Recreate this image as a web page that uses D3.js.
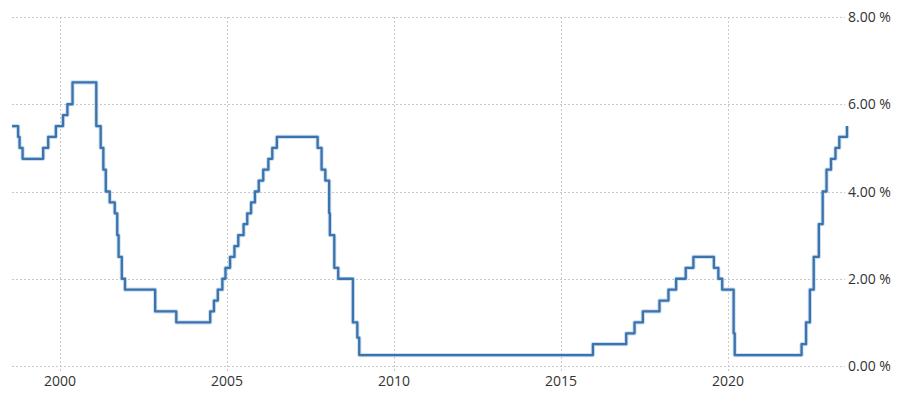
<!DOCTYPE html>
<html>
<head>
<meta charset="utf-8">
<script src="https://cdn.jsdelivr.net/npm/d3@7"></script>
<style>
  html, body { margin: 0; padding: 0; background: #fff; }
  svg { display: block; }
  text { font-family: "Open Sans", "Noto Sans", sans-serif; }
</style>
</head>
<body>
<svg id="chart" width="900" height="401"></svg>
<script>
// Dates when the plotted rate changed, and the rate in effect from that date (%)
const changeDates = [
  "1998-07-24","1998-09-29","1998-10-15","1998-11-17",
  "1999-06-30","1999-08-24","1999-11-16",
  "2000-02-02","2000-03-21","2000-05-16",
  "2001-01-31","2001-03-20","2001-04-18","2001-05-15","2001-06-27",
  "2001-08-21","2001-09-17","2001-10-02","2001-11-06","2001-12-11",
  "2002-11-06","2003-06-25",
  "2004-06-30","2004-08-10","2004-09-21","2004-11-10","2004-12-14",
  "2005-02-02","2005-03-22","2005-05-03","2005-06-30","2005-08-09","2005-09-20",
  "2005-11-01","2005-12-13","2006-01-31","2006-03-28","2006-05-10","2006-06-29",
  "2007-09-18","2007-10-31","2007-12-11","2008-01-22","2008-01-30","2008-03-18",
  "2008-04-30","2008-10-08","2008-11-25","2008-12-16",
  "2015-12-16","2016-12-14","2017-03-15","2017-06-14","2017-12-13","2018-03-21",
  "2018-06-13","2018-09-26","2018-12-19",
  "2019-07-31","2019-09-18","2019-10-30","2020-03-03","2020-03-15",
  "2022-03-16","2022-05-04","2022-06-15","2022-07-27","2022-09-21","2022-11-02",
  "2022-12-14","2023-02-01","2023-03-22","2023-05-03","2023-07-26"
];
const rates = [
  5.50,5.25,5.00,4.75,
  5.00,5.25,5.50,
  5.75,6.00,6.50,
  5.50,5.00,4.50,4.00,3.75,
  3.50,3.00,2.50,2.00,1.75,
  1.25,1.00,
  1.25,1.50,1.75,2.00,2.25,
  2.50,2.75,3.00,3.25,3.50,3.75,
  4.00,4.25,4.50,4.75,5.00,5.25,
  5.00,4.50,4.25,3.50,3.00,2.25,
  2.00,1.00,0.65,0.25,
  0.50,0.75,1.00,1.25,1.50,1.75,
  2.00,2.25,2.50,
  2.25,2.00,1.75,0.75,0.25,
  0.50,1.00,1.75,2.50,3.25,4.00,
  4.50,4.75,5.00,5.25,5.50
];
const yTickValues = [0, 2, 4, 6, 8];
const xTickYears = [2000, 2005, 2010, 2015, 2020];

const parse = d3.timeParse("%Y-%m-%d");
const data = changeDates.map((d, i) => ({ date: parse(d), value: rates[i] }));

const svg = d3.select("#chart");
const plotLeft = 12, plotRight = 847, plotTop = 17, plotBottom = 366;

const x = d3.scaleTime()
  .domain(d3.extent(data, d => d.date))
  .range([plotLeft, plotRight]);
const y = d3.scaleLinear().domain([0, 8]).range([plotBottom, plotTop]);

const gridColor = "#c9c9c9";

// horizontal grid
svg.append("g").selectAll("line").data(yTickValues).join("line")
  .attr("x1", plotLeft).attr("x2", 845)
  .attr("y1", d => Math.round(y(d)) + 0.5).attr("y2", d => Math.round(y(d)) + 0.5)
  .attr("stroke", gridColor).attr("stroke-width", 1).attr("stroke-dasharray", "2,2");

// vertical grid
const xTickDates = xTickYears.map(yr => new Date(yr, 0, 1));
svg.append("g").selectAll("line").data(xTickDates).join("line")
  .attr("x1", d => Math.round(x(d)) + 0.5).attr("x2", d => Math.round(x(d)) + 0.5)
  .attr("y1", plotTop).attr("y2", 371)
  .attr("stroke", gridColor).attr("stroke-width", 1).attr("stroke-dasharray", "2,2");

// y labels
const fmt = d3.format(".2f");
svg.append("g").selectAll("text").data(yTickValues).join("text")
  .attr("x", 848).attr("y", d => y(d)).attr("dy", "0.36em")
  .attr("font-size", 14).attr("fill", "#333")
  .text(d => fmt(d) + " %");

// x labels
svg.append("g").selectAll("text").data(xTickDates).join("text")
  .attr("x", d => x(d)).attr("y", 386)
  .attr("text-anchor", "middle")
  .attr("font-size", 14).attr("fill", "#333")
  .text(d => d3.timeFormat("%Y")(d));

// line
const line = d3.line()
  .x(d => x(d.date)).y(d => y(d.value))
  .curve(d3.curveStepAfter);

svg.append("path").datum(data)
  .attr("d", line)
  .attr("fill", "none")
  .attr("stroke", "#a9c6e3").attr("stroke-width", 4.2).attr("stroke-opacity", 0.6)
  .attr("stroke-linejoin", "round");
svg.append("path").datum(data)
  .attr("d", line)
  .attr("fill", "none")
  .attr("stroke", "#3a73ad").attr("stroke-width", 2.3)
  .attr("stroke-linejoin", "round");
</script>
</body>
</html>
